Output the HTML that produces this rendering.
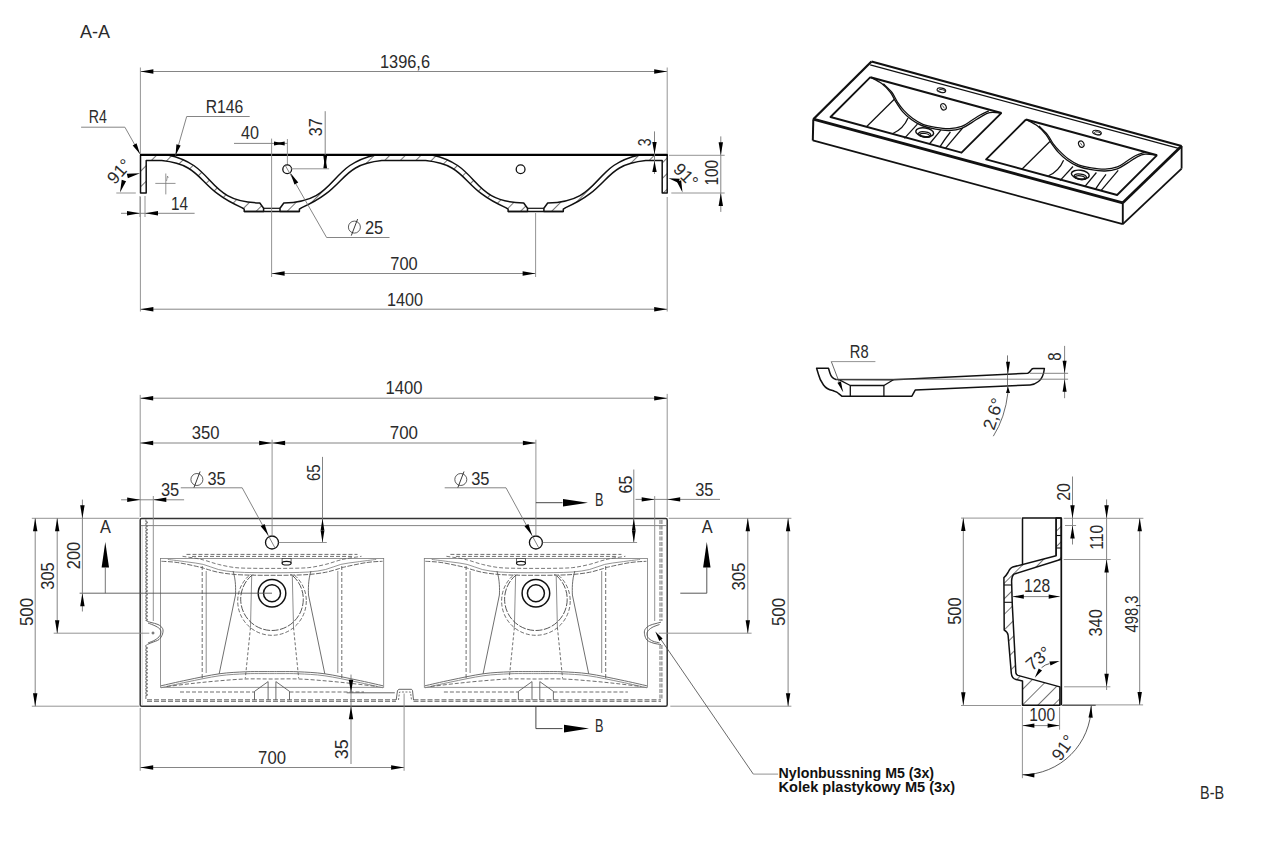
<!DOCTYPE html>
<html><head><meta charset="utf-8"><style>
html,body{margin:0;padding:0;background:#fff;width:1266px;height:842px;overflow:hidden}
svg{display:block;font-family:"Liberation Sans", sans-serif}
</style></head><body>
<svg width="1266" height="842" viewBox="0 0 1266 842">
<rect width="1266" height="842" fill="#fff"/>
<defs><pattern id="hatch" patternUnits="userSpaceOnUse" width="11" height="11" patternTransform="rotate(45)"><line x1="0" y1="0" x2="0" y2="11" stroke="#222" stroke-width="1.25"/></pattern></defs>
<path d="M140.5,154.9 L167.8,154.9 C217.2,165.2 204.8,201.9 259.8,203 L263.6,208.3 L263.6,211.5 L244.2,211.5 L244.2,209.2 L241.8,207.6 C194.7,187.1 206.1,165.4 161.8,160.6 L146.2,160.6 L146.2,193.1 L140.5,193.1 Z" fill="url(#hatch)" stroke="#111" stroke-width="1.5" stroke-linejoin="round"/>
<path d="M280,211.5 L280,208.3 L283.8,203 C338.8,201.9 326.4,165.2 375.8,154.9 L431.7,154.9 C481.1,165.2 468.7,201.9 523.7,203 L527.5,208.3 L527.5,211.5 L508.1,211.5 L508.1,209.2 L505.7,207.6 C458.6,187.1 470,165.4 425.7,160.6 L381.8,160.6 C337.5,165.4 348.9,187.1 301.8,207.6 L299.4,209.2 L299.4,211.5 Z" fill="url(#hatch)" stroke="#111" stroke-width="1.5" stroke-linejoin="round"/>
<path d="M543.9,211.5 L543.9,208.3 L547.7,203 C602.7,201.9 590.3,165.2 639.7,154.9 L667.2,154.9 L667.2,193.1 L662.2,193.1 L662.2,160.6 L645.7,160.6 C601.4,165.4 612.8,187.1 565.7,207.6 L563.3,209.2 L563.3,211.5 Z" fill="url(#hatch)" stroke="#111" stroke-width="1.5" stroke-linejoin="round"/>
<line x1="263.6" y1="208.3" x2="280" y2="208.3" stroke="#111" stroke-width="1.2" stroke-linecap="butt"/>
<line x1="244.2" y1="211.5" x2="299.4" y2="211.5" stroke="#111" stroke-width="1.5" stroke-linecap="butt"/>
<line x1="527.5" y1="208.3" x2="543.9" y2="208.3" stroke="#111" stroke-width="1.2" stroke-linecap="butt"/>
<line x1="508.1" y1="211.5" x2="563.3" y2="211.5" stroke="#111" stroke-width="1.5" stroke-linecap="butt"/>
<line x1="140" y1="154.9" x2="667.7" y2="154.9" stroke="#000" stroke-width="2.4" stroke-linecap="butt"/>
<text x="80" y="37.6" font-size="17.5" text-anchor="start" textLength="30" lengthAdjust="spacingAndGlyphs" fill="#2b2b2b">A-A</text>
<line x1="140.4" y1="71.5" x2="667.2" y2="71.5" stroke="#777" stroke-width="0.9" stroke-linecap="butt"/>
<path d="M140.4,71.5 L153.4,69.3 L153.4,73.7 Z" fill="#000"/>
<path d="M667.2,71.5 L654.2,73.7 L654.2,69.3 Z" fill="#000"/>
<text x="380" y="67.8" font-size="17.5" text-anchor="start" textLength="50" lengthAdjust="spacingAndGlyphs" fill="#2b2b2b">1396,6</text>
<line x1="140.4" y1="67.5" x2="140.4" y2="154" stroke="#888" stroke-width="0.9" stroke-linecap="butt"/>
<line x1="140.4" y1="197" x2="140.4" y2="311.5" stroke="#888" stroke-width="0.9" stroke-linecap="butt"/>
<line x1="667.2" y1="67.5" x2="667.2" y2="154" stroke="#888" stroke-width="0.9" stroke-linecap="butt"/>
<line x1="667.2" y1="197" x2="667.2" y2="311.5" stroke="#888" stroke-width="0.9" stroke-linecap="butt"/>
<line x1="140.4" y1="309.2" x2="667.2" y2="309.2" stroke="#777" stroke-width="0.9" stroke-linecap="butt"/>
<path d="M140.4,309.2 L153.4,307 L153.4,311.4 Z" fill="#000"/>
<path d="M667.2,309.2 L654.2,311.4 L654.2,307 Z" fill="#000"/>
<text x="387.1" y="305.6" font-size="17.5" text-anchor="start" textLength="36" lengthAdjust="spacingAndGlyphs" fill="#2b2b2b">1400</text>
<line x1="271.6" y1="273.5" x2="535.6" y2="273.5" stroke="#777" stroke-width="0.9" stroke-linecap="butt"/>
<path d="M271.6,273.5 L284.6,271.3 L284.6,275.7 Z" fill="#000"/>
<path d="M535.6,273.5 L522.6,275.7 L522.6,271.3 Z" fill="#000"/>
<text x="390.3" y="269.6" font-size="17.5" text-anchor="start" textLength="27.4" lengthAdjust="spacingAndGlyphs" fill="#2b2b2b">700</text>
<line x1="271.6" y1="138.6" x2="271.6" y2="277" stroke="#888" stroke-width="0.9" stroke-linecap="butt"/>
<line x1="535.6" y1="213" x2="535.6" y2="277" stroke="#888" stroke-width="0.9" stroke-linecap="butt"/>
<line x1="234" y1="143.4" x2="287.4" y2="143.4" stroke="#777" stroke-width="0.9" stroke-linecap="butt"/>
<path d="M284.7,143.4 L274,145.4 L274,141.4 Z" fill="#000"/>
<path d="M274,143.4 L284.7,141.4 L284.7,145.4 Z" fill="#000"/>
<text x="241" y="139.1" font-size="17.5" text-anchor="start" textLength="18" lengthAdjust="spacingAndGlyphs" fill="#2b2b2b">40</text>
<line x1="287.4" y1="139" x2="287.4" y2="165" stroke="#888" stroke-width="0.9" stroke-linecap="butt"/>
<circle cx="287.2" cy="169.2" r="4.4" fill="none" stroke="#111" stroke-width="1.3"/>
<circle cx="520.6" cy="169.2" r="4.4" fill="none" stroke="#111" stroke-width="1.3"/>
<line x1="325.2" y1="111.2" x2="325.2" y2="155" stroke="#777" stroke-width="0.9" stroke-linecap="butt"/>
<path d="M325.2,168.6 L323.3,155.7 L327.1,155.7 Z" fill="#000"/>
<path d="M325.2,155.7 L327.1,168.6 L323.3,168.6 Z" fill="#000"/>
<line x1="291" y1="168.8" x2="329.1" y2="168.8" stroke="#888" stroke-width="0.9" stroke-linecap="butt"/>
<text x="322" y="136.2" font-size="17.5" text-anchor="start" textLength="17.9" lengthAdjust="spacingAndGlyphs" transform="rotate(-90 322 136.2)" fill="#2b2b2b">37</text>
<line x1="654.5" y1="131.4" x2="654.5" y2="174" stroke="#777" stroke-width="0.9" stroke-linecap="butt"/>
<path d="M654.5,154 L652.3,142 L656.7,142 Z" fill="#000"/>
<path d="M654.5,161 L656.7,172 L652.3,172 Z" fill="#000"/>
<text x="650.6" y="146.3" font-size="17.5" text-anchor="start" textLength="7.8" lengthAdjust="spacingAndGlyphs" transform="rotate(-90 650.6 146.3)" fill="#2b2b2b">3</text>
<line x1="720.8" y1="136.4" x2="720.8" y2="211.9" stroke="#777" stroke-width="0.9" stroke-linecap="butt"/>
<path d="M720.8,155.3 L718.6,142.3 L723,142.3 Z" fill="#000"/>
<path d="M720.8,193 L723,206 L718.6,206 Z" fill="#000"/>
<line x1="669" y1="155.3" x2="724.7" y2="155.3" stroke="#888" stroke-width="0.9" stroke-linecap="butt"/>
<line x1="671.3" y1="193" x2="724.7" y2="193" stroke="#888" stroke-width="0.9" stroke-linecap="butt"/>
<text x="717.6" y="185.5" font-size="17.5" text-anchor="start" textLength="25.6" lengthAdjust="spacingAndGlyphs" transform="rotate(-90 717.6 185.5)" fill="#2b2b2b">100</text>
<text x="672.3" y="170.3" font-size="17.5" text-anchor="start" transform="rotate(45 672.3 170.3)" fill="#2b2b2b">91°</text>
<path d="M668.5,178.3 L679.71,178.83 L678.64,183.1 Z" fill="#000"/>
<path d="M682.5,192.5 L676.94,181.64 L681.16,180.37 Z" fill="#000"/>
<path d="M679,181 Q678.5,183 679.5,185" fill="none" stroke="#000" stroke-width="0.9" stroke-linejoin="round"/>
<text x="114.7" y="185.3" font-size="17.5" text-anchor="start" transform="rotate(-48 114.7 185.3)" fill="#2b2b2b">91°</text>
<path d="M140,173.2 L127.85,178.36 L126.82,173.87 Z" fill="#000"/>
<path d="M120,192.4 L121.73,179.81 L126.1,181.25 Z" fill="#000"/>
<line x1="116.3" y1="193" x2="135.8" y2="193" stroke="#888" stroke-width="0.9" stroke-linecap="butt"/>
<text x="88.8" y="123.2" font-size="17.5" text-anchor="start" textLength="18.1" lengthAdjust="spacingAndGlyphs" fill="#2b2b2b">R4</text>
<line x1="81.1" y1="127.2" x2="124.9" y2="127.2" stroke="#777" stroke-width="0.9" stroke-linecap="butt"/>
<line x1="124.9" y1="127.2" x2="140" y2="154" stroke="#777" stroke-width="0.9" stroke-linecap="butt"/>
<path d="M140,154 L132.68,145.5 L136.52,143.34 Z" fill="#000"/>
<text x="205.8" y="112.8" font-size="17.5" text-anchor="start" textLength="37.5" lengthAdjust="spacingAndGlyphs" fill="#2b2b2b">R146</text>
<line x1="186.7" y1="116.5" x2="249.7" y2="116.5" stroke="#777" stroke-width="0.9" stroke-linecap="butt"/>
<line x1="186.7" y1="116.5" x2="175.5" y2="155.5" stroke="#777" stroke-width="0.9" stroke-linecap="butt"/>
<path d="M175.5,155.5 L176.42,144.32 L180.65,145.53 Z" fill="#000"/>
<circle cx="354.4" cy="227.1" r="6" fill="none" stroke="#333" stroke-width="0.8"/>
<line x1="357.6" y1="219.1" x2="351.3" y2="235.6" stroke="#222" stroke-width="0.9" stroke-linecap="butt"/>
<text x="364.9" y="234" font-size="17.5" text-anchor="start" textLength="18.3" lengthAdjust="spacingAndGlyphs" fill="#2b2b2b">25</text>
<line x1="326.6" y1="237.5" x2="389.5" y2="237.5" stroke="#777" stroke-width="0.9" stroke-linecap="butt"/>
<line x1="326.6" y1="237.5" x2="285.3" y2="165.5" stroke="#777" stroke-width="0.9" stroke-linecap="butt"/>
<path d="M290.5,173 L298.28,182.4 L294.44,184.55 Z" fill="#000"/>
<line x1="121" y1="213.3" x2="194.6" y2="213.3" stroke="#777" stroke-width="0.9" stroke-linecap="butt"/>
<path d="M140,213.3 L127,215.5 L127,211.1 Z" fill="#000"/>
<path d="M145,213.3 L158,211.1 L158,215.5 Z" fill="#000"/>
<line x1="140" y1="196" x2="140" y2="217" stroke="#888" stroke-width="0.9" stroke-linecap="butt"/>
<line x1="145" y1="196" x2="145" y2="217" stroke="#888" stroke-width="0.9" stroke-linecap="butt"/>
<text x="171" y="210" font-size="17.5" text-anchor="start" textLength="17" lengthAdjust="spacingAndGlyphs" fill="#2b2b2b">14</text>
<line x1="155.3" y1="183.4" x2="175.5" y2="183.4" stroke="#777" stroke-width="0.8" stroke-linecap="butt"/>
<line x1="165.8" y1="173.5" x2="165.8" y2="194.4" stroke="#777" stroke-width="0.8" stroke-linecap="butt"/>
<path d="M166.5,181 L167.5,176 L168.2,178" fill="none" stroke="#777" stroke-width="0.7" stroke-linejoin="round"/>
<line x1="871.5" y1="61.5" x2="1181.6" y2="146" stroke="#111" stroke-width="2.3" stroke-linecap="butt"/>
<line x1="870.2" y1="64.8" x2="1179.5" y2="148.6" stroke="#111" stroke-width="1.3" stroke-linecap="butt"/>
<line x1="871.5" y1="61.5" x2="813.3" y2="119.2" stroke="#111" stroke-width="2.3" stroke-linecap="butt"/>
<line x1="813.3" y1="119.2" x2="812.8" y2="140.4" stroke="#111" stroke-width="2.0" stroke-linecap="butt"/>
<line x1="812.8" y1="140.4" x2="1122.8" y2="224.2" stroke="#111" stroke-width="1.8" stroke-linecap="butt"/>
<line x1="1122.8" y1="202.8" x2="1122.8" y2="224.2" stroke="#111" stroke-width="1.9" stroke-linecap="butt"/>
<line x1="813.3" y1="119.2" x2="1122.8" y2="202.8" stroke="#111" stroke-width="2.8" stroke-linecap="butt"/>
<line x1="1122.8" y1="202.8" x2="1181.6" y2="146" stroke="#111" stroke-width="2.7" stroke-linecap="butt"/>
<line x1="1181.6" y1="146" x2="1181.6" y2="168.6" stroke="#111" stroke-width="1.8" stroke-linecap="butt"/>
<line x1="1181.6" y1="168.6" x2="1122.8" y2="224.2" stroke="#111" stroke-width="1.8" stroke-linecap="butt"/>
<line x1="1179.5" y1="148.6" x2="1181.6" y2="146" stroke="#111" stroke-width="1.2" stroke-linecap="butt"/>
<path d="M1026,119.5 L986.1,159.3 L1117.1,195 L1157.1,155.2" fill="none" stroke="#111" stroke-width="1.85" stroke-linejoin="round"/>
<line x1="1026" y1="119.5" x2="1157.1" y2="155.2" stroke="#111" stroke-width="2.1" stroke-linecap="butt"/>
<path d="M1026,119.5 C1027.88,120.55 1033.97,123.28 1037.3,125.8 C1040.63,128.32 1043.63,131.67 1046,134.6 C1048.37,137.53 1049.47,140.48 1051.5,143.4 C1053.53,146.32 1055.63,149.33 1058.2,152.1 C1060.77,154.87 1063.72,157.68 1066.9,160 C1070.08,162.32 1073.25,164.38 1077.3,166 C1081.35,167.62 1086.57,168.87 1091.2,169.7 C1095.83,170.53 1100.75,171.15 1105.1,171 C1109.45,170.85 1113.53,170.17 1117.3,168.8 C1121.07,167.43 1124.52,164.72 1127.7,162.8 C1130.88,160.88 1133.5,158.73 1136.4,157.3 C1139.3,155.87 1141.67,154.55 1145.1,154.2 C1148.53,153.85 1155.02,155.03 1157,155.2" fill="none" stroke="#111" stroke-width="1.35" stroke-linejoin="round"/>
<path d="M1038.9,126 C1040.35,127.47 1045.23,131.87 1047.6,134.8 C1049.97,137.73 1051.13,140.92 1053.1,143.6 C1055.07,146.28 1056.9,148.37 1059.4,150.9 C1061.9,153.43 1064.92,156.48 1068.1,158.8 C1071.28,161.12 1074.65,163.3 1078.5,164.8 C1082.35,166.3 1086.77,167.08 1091.2,167.8 C1095.63,168.52 1100.75,169.25 1105.1,169.1 C1109.45,168.95 1113.63,168.25 1117.3,166.9 C1120.97,165.55 1124.02,162.9 1127.1,161 C1130.18,159.1 1132.9,156.93 1135.8,155.5 C1138.7,154.07 1143.05,152.92 1144.5,152.4" fill="none" stroke="#111" stroke-width="1.25" stroke-linejoin="round"/>
<line x1="1049.9" y1="141.5" x2="1022.1" y2="169" stroke="#111" stroke-width="1.25" stroke-linecap="butt"/>
<path d="M1063.6,160.2 Q1059,171 1048.5,175.8" fill="none" stroke="#111" stroke-width="1.25" stroke-linejoin="round"/>
<line x1="1073" y1="166.5" x2="1060" y2="180.6" stroke="#111" stroke-width="1.25" stroke-linecap="butt"/>
<line x1="1096.4" y1="172.5" x2="1085" y2="186.3" stroke="#111" stroke-width="1.25" stroke-linecap="butt"/>
<path d="M1106,174.3 Q1100,182 1095.5,189.2" fill="none" stroke="#111" stroke-width="1.25" stroke-linejoin="round"/>
<line x1="1118.2" y1="170.3" x2="1101" y2="190.6" stroke="#111" stroke-width="1.25" stroke-linecap="butt"/>
<ellipse cx="1080.3" cy="174.6" rx="9" ry="4.3" transform="rotate(8 1080.3 174.6)" fill="none" stroke="#111" stroke-width="1.45"/>
<ellipse cx="1080.3" cy="176.8" rx="6.2" ry="2.7" transform="rotate(8 1080.3 176.8)" fill="none" stroke="#111" stroke-width="1.2"/>
<ellipse cx="1080.3" cy="177.6" rx="4.8" ry="1.8" transform="rotate(8 1080.3 177.6)" fill="none" stroke="#111" stroke-width="1.2"/>
<ellipse cx="1081.3" cy="144.1" rx="2.6" ry="3.3" transform="rotate(-25 1081.3 144.1)" fill="none" stroke="#111" stroke-width="1.2"/>
<line x1="1080.3" y1="142.8" x2="1082.2" y2="145.6" stroke="#333" stroke-width="0.8" stroke-linecap="butt"/>
<ellipse cx="1097" cy="132.6" rx="4.4" ry="2.2" transform="rotate(12 1097 132.6)" fill="none" stroke="#111" stroke-width="1.1"/>
<ellipse cx="1097.6" cy="133.3" rx="3.4" ry="1.4" transform="rotate(12 1097.6 133.3)" fill="none" stroke="#111" stroke-width="0.8"/>
<path d="M870.4,77.2 L830.5,117 L961.5,152.7 L1001.5,112.9" fill="none" stroke="#111" stroke-width="1.85" stroke-linejoin="round"/>
<line x1="870.4" y1="77.2" x2="1001.5" y2="112.9" stroke="#111" stroke-width="2.1" stroke-linecap="butt"/>
<path d="M870.4,77.2 C872.28,78.25 878.37,80.98 881.7,83.5 C885.03,86.02 888.03,89.23 890.4,92.3 C892.77,95.37 893.87,98.71 895.9,101.92 C897.93,105.14 900.03,108.67 902.6,111.6 C905.17,114.53 908.12,117.18 911.3,119.5 C914.48,121.82 917.65,123.88 921.7,125.5 C925.75,127.12 930.97,128.37 935.6,129.2 C940.23,130.03 945.15,130.65 949.5,130.5 C953.85,130.35 957.93,129.67 961.7,128.3 C965.47,126.93 968.92,124.22 972.1,122.3 C975.28,120.38 977.9,118.41 980.8,116.8 C983.7,115.19 986.07,113.29 989.5,112.64 C992.93,111.98 999.42,112.86 1001.4,112.9" fill="none" stroke="#111" stroke-width="1.35" stroke-linejoin="round"/>
<path d="M883.3,83.7 C884.75,85.17 889.63,89.43 892,92.5 C894.37,95.57 895.53,99.14 897.5,102.12 C899.47,105.11 901.3,107.7 903.8,110.4 C906.3,113.1 909.32,115.98 912.5,118.3 C915.68,120.62 919.05,122.8 922.9,124.3 C926.75,125.8 931.17,126.58 935.6,127.3 C940.03,128.02 945.15,128.75 949.5,128.6 C953.85,128.45 958.03,127.75 961.7,126.4 C965.37,125.05 968.42,122.4 971.5,120.5 C974.58,118.6 977.3,116.61 980.2,115 C983.1,113.39 987.45,111.53 988.9,110.83" fill="none" stroke="#111" stroke-width="1.25" stroke-linejoin="round"/>
<line x1="894.3" y1="99.2" x2="866.5" y2="126.7" stroke="#111" stroke-width="1.25" stroke-linecap="butt"/>
<path d="M908,117.9 Q903.4,128.7 892.9,133.5" fill="none" stroke="#111" stroke-width="1.25" stroke-linejoin="round"/>
<line x1="917.4" y1="124.2" x2="904.4" y2="138.3" stroke="#111" stroke-width="1.25" stroke-linecap="butt"/>
<line x1="940.8" y1="130.2" x2="929.4" y2="144" stroke="#111" stroke-width="1.25" stroke-linecap="butt"/>
<path d="M950.4,132 Q944.4,139.7 939.9,146.9" fill="none" stroke="#111" stroke-width="1.25" stroke-linejoin="round"/>
<line x1="962.6" y1="128" x2="945.4" y2="148.3" stroke="#111" stroke-width="1.25" stroke-linecap="butt"/>
<ellipse cx="924.7" cy="132.3" rx="9" ry="4.3" transform="rotate(8 924.7 132.3)" fill="none" stroke="#111" stroke-width="1.45"/>
<ellipse cx="924.7" cy="134.5" rx="6.2" ry="2.7" transform="rotate(8 924.7 134.5)" fill="none" stroke="#111" stroke-width="1.2"/>
<ellipse cx="924.7" cy="135.3" rx="4.8" ry="1.8" transform="rotate(8 924.7 135.3)" fill="none" stroke="#111" stroke-width="1.2"/>
<ellipse cx="943.5" cy="106.8" rx="2.6" ry="3.3" transform="rotate(-25 943.5 106.8)" fill="none" stroke="#111" stroke-width="1.2"/>
<line x1="942.5" y1="105.5" x2="944.4" y2="108.3" stroke="#333" stroke-width="0.8" stroke-linecap="butt"/>
<ellipse cx="941.4" cy="90.3" rx="4.4" ry="2.2" transform="rotate(12 941.4 90.3)" fill="none" stroke="#111" stroke-width="1.1"/>
<ellipse cx="942" cy="91" rx="3.4" ry="1.4" transform="rotate(12 942 91)" fill="none" stroke="#111" stroke-width="0.8"/>
<path d="M816.6,368.3 L828.5,368.3 L829.9,373 C830.8,376 832.5,378.6 836,379.5 L893.4,379.8 L1027.7,373.3 C1029.5,372.8 1030.5,370.5 1031.5,369.5 C1032,368.8 1032.8,368.5 1033.6,368.5 L1044.4,368.5 C1043.8,374 1042.5,378.5 1038.5,381.5 C1036,383.5 1033,384.8 1030.1,384.9 L915.2,390.1 L911.9,396.2 L841.8,396.2 L838.4,393.4 C837.5,392.3 836.5,391.6 834.5,391.2 L832.7,390.5 C829.5,389.8 826,388.5 823.5,385 C821,381.5 819.3,378 818.5,374.5 Z" fill="none" stroke="#111" stroke-width="1.5" stroke-linejoin="round"/>
<path d="M839.4,379.8 L850.3,385.5 L883.9,385.5 L893.4,379.8" fill="none" stroke="#111" stroke-width="1.3" stroke-linejoin="round"/>
<line x1="850.3" y1="385.5" x2="850.3" y2="396.2" stroke="#111" stroke-width="1.3" stroke-linecap="butt"/>
<line x1="883.9" y1="385.5" x2="883.9" y2="396.2" stroke="#111" stroke-width="1.3" stroke-linecap="butt"/>
<line x1="836" y1="379.2" x2="1068.1" y2="379.2" stroke="#666" stroke-width="0.8" stroke-linecap="butt"/>
<line x1="1030" y1="373.3" x2="1068.1" y2="373.3" stroke="#666" stroke-width="0.8" stroke-linecap="butt"/>
<text x="849.8" y="357.6" font-size="17.5" text-anchor="start" textLength="18.8" lengthAdjust="spacingAndGlyphs" fill="#2b2b2b">R8</text>
<line x1="831.3" y1="361.6" x2="875.4" y2="361.6" stroke="#888" stroke-width="0.9" stroke-linecap="butt"/>
<line x1="831.3" y1="361.6" x2="842.8" y2="391.5" stroke="#444" stroke-width="0.8" stroke-linecap="butt"/>
<path d="M842.8,391.5 L837.44,382.85 L840.98,381.48 Z" fill="#000"/>
<line x1="1064.6" y1="345.9" x2="1064.6" y2="398.2" stroke="#777" stroke-width="0.9" stroke-linecap="butt"/>
<path d="M1064.6,373.3 L1062.6,360.8 L1066.6,360.8 Z" fill="#000"/>
<path d="M1064.6,379.2 L1066.6,391.7 L1062.6,391.7 Z" fill="#000"/>
<text x="1061" y="360.8" font-size="17.5" text-anchor="start" textLength="8.3" lengthAdjust="spacingAndGlyphs" transform="rotate(-90 1061 360.8)" fill="#2b2b2b">8</text>
<line x1="1007.5" y1="355.4" x2="1007.5" y2="392.3" stroke="#555" stroke-width="0.8" stroke-linecap="butt"/>
<path d="M1008,374.2 L1006,361.7 L1010,361.7 Z" fill="#000"/>
<path d="M1008,386.5 L1010,393 L1006,393 Z" fill="#000"/>
<path d="M1008,392.3 Q1005,418 993.3,436.2" fill="none" stroke="#444" stroke-width="0.8" stroke-linejoin="round"/>
<text x="994" y="431" font-size="17.5" text-anchor="start" textLength="32" lengthAdjust="spacingAndGlyphs" transform="rotate(-72 994 431)" fill="#2b2b2b">2,6°</text>
<rect x="160.4" y="558.4" width="223.3" height="128.9" fill="none" stroke="#7a7a7a" stroke-width="0.8"/>
<line x1="186.5" y1="554.4" x2="357.5" y2="554.4" stroke="#555" stroke-width="0.85" stroke-dasharray="4,2" stroke-linecap="butt"/>
<line x1="192" y1="556.4" x2="352" y2="556.4" stroke="#555" stroke-width="0.85" stroke-dasharray="4,2" stroke-linecap="butt"/>
<path d="M161.5,561.3 C164.13,561.5 170.98,561.55 177.3,562.5 C183.62,563.45 194.65,565.93 199.4,567 C204.15,568.07 202.63,568.02 205.8,568.9 C208.97,569.78 213.5,571.37 218.4,572.3 C223.3,573.23 229.27,574.02 235.2,574.5 C241.13,574.98 247.87,575.07 254,575.2 C260.13,575.33 266,575.3 272,575.3 C278,575.3 283.87,575.33 290,575.2 C296.13,575.07 302.87,574.98 308.8,574.5 C314.73,574.02 320.7,573.23 325.6,572.3 C330.5,571.37 335.03,569.78 338.2,568.9 C341.37,568.02 339.85,568.07 344.6,567 C349.35,565.93 360.38,563.45 366.7,562.5 C373.02,561.55 379.87,561.5 382.5,561.3" fill="none" stroke="#555" stroke-width="0.9" stroke-dasharray="5,1.5" stroke-linejoin="round"/>
<path d="M167.8,559.4 C170.97,559.82 180.9,561.07 186.8,561.9 C192.7,562.73 197.93,563.13 203.2,564.4 C208.47,565.67 213.07,568.23 218.4,569.5 C223.73,570.77 229.27,571.48 235.2,572 C241.13,572.52 247.87,572.48 254,572.6 C260.13,572.72 266,572.7 272,572.7 C278,572.7 283.87,572.72 290,572.6 C296.13,572.48 302.87,572.52 308.8,572 C314.73,571.48 320.27,570.77 325.6,569.5 C330.93,568.23 335.53,565.67 340.8,564.4 C346.07,563.13 351.3,562.73 357.2,561.9 C363.1,561.07 373.03,559.82 376.2,559.4" fill="none" stroke="#7a7a7a" stroke-width="0.8" stroke-linejoin="round"/>
<path d="M182.5,556.3 C184.92,556.67 193.12,557.78 197,558.5 C200.88,559.22 202.23,559.62 205.8,560.6 C209.37,561.58 213.5,563.23 218.4,564.4 C223.3,565.57 229.27,566.95 235.2,567.6 C241.13,568.25 247.87,568.17 254,568.3 C260.13,568.43 266,568.4 272,568.4 C278,568.4 283.87,568.43 290,568.3 C296.13,568.17 302.87,568.25 308.8,567.6 C314.73,566.95 320.7,565.57 325.6,564.4 C330.5,563.23 334.63,561.58 338.2,560.6 C341.77,559.62 343.12,559.22 347,558.5 C350.88,557.78 359.08,556.67 361.5,556.3" fill="none" stroke="#555" stroke-width="0.8" stroke-dasharray="4,2" stroke-linejoin="round"/>
<path d="M161,685.8 C165.33,684.83 177.3,682 187,680 C196.7,678 209.48,675.17 219.2,673.8 C228.92,672.43 238.17,672.17 245.3,671.8 C252.43,671.43 257.55,671.63 262,671.6 C266.45,671.57 268.67,671.6 272,671.6 C275.33,671.6 277.55,671.57 282,671.6 C286.45,671.63 291.57,671.43 298.7,671.8 C305.83,672.17 315.08,672.43 324.8,673.8 C334.52,675.17 347.3,678 357,680 C366.7,682 378.67,684.83 383,685.8" fill="none" stroke="#555" stroke-width="0.85" stroke-linejoin="round"/>
<path d="M161,687.8 C165.33,686.83 177.3,684 187,682 C196.7,680 209.48,677.17 219.2,675.8 C228.92,674.43 238.17,674.17 245.3,673.8 C252.43,673.43 257.55,673.63 262,673.6 C266.45,673.57 268.67,673.6 272,673.6 C275.33,673.6 277.55,673.57 282,673.6 C286.45,673.63 291.57,673.43 298.7,673.8 C305.83,674.17 315.08,674.43 324.8,675.8 C334.52,677.17 347.3,680 357,682 C366.7,684 378.67,686.83 383,687.8" fill="none" stroke="#7a7a7a" stroke-width="0.85" stroke-linejoin="round"/>
<path d="M167,686.5 C171.17,686 183.67,684.42 192,683.5 C200.33,682.58 208.17,681.75 217,681 C225.83,680.25 235.83,679.33 245,679 C254.17,678.67 263,679 272,679 C281,679 289.83,678.67 299,679 C308.17,679.33 318.17,680.25 327,681 C335.83,681.75 343.67,682.58 352,683.5 C360.33,684.42 372.83,686 377,686.5" fill="none" stroke="#555" stroke-width="0.85" stroke-dasharray="4,2" stroke-linejoin="round"/>
<line x1="180" y1="692" x2="254.5" y2="692" stroke="#555" stroke-width="0.85" stroke-dasharray="4,2" stroke-linecap="butt"/>
<line x1="289.5" y1="692" x2="364" y2="692" stroke="#555" stroke-width="0.85" stroke-dasharray="4,2" stroke-linecap="butt"/>
<line x1="202.2" y1="566" x2="202.2" y2="678.4" stroke="#555" stroke-width="0.85" stroke-dasharray="4,2" stroke-linecap="butt"/>
<line x1="206.2" y1="571" x2="206.2" y2="673" stroke="#7a7a7a" stroke-width="0.85" stroke-linecap="butt"/>
<path d="M233,571 C236,580 235.7,590 235.5,595 L219.2,673.8" fill="none" stroke="#555" stroke-width="0.85" stroke-linejoin="round"/>
<line x1="251.7" y1="575.7" x2="250.5" y2="627" stroke="#7a7a7a" stroke-width="0.85" stroke-linecap="butt"/>
<line x1="250.5" y1="627.4" x2="245.3" y2="678.4" stroke="#555" stroke-width="0.85" stroke-dasharray="3,2" stroke-linecap="butt"/>
<line x1="341.8" y1="566" x2="341.8" y2="678.4" stroke="#555" stroke-width="0.85" stroke-dasharray="4,2" stroke-linecap="butt"/>
<line x1="337.8" y1="571" x2="337.8" y2="673" stroke="#7a7a7a" stroke-width="0.85" stroke-linecap="butt"/>
<path d="M311,571 C308,580 308.3,590 308.5,595 L324.8,673.8" fill="none" stroke="#555" stroke-width="0.85" stroke-linejoin="round"/>
<line x1="292.3" y1="575.7" x2="293.5" y2="627" stroke="#7a7a7a" stroke-width="0.85" stroke-linecap="butt"/>
<line x1="293.5" y1="627.4" x2="298.7" y2="678.4" stroke="#555" stroke-width="0.85" stroke-dasharray="3,2" stroke-linecap="butt"/>
<clipPath id="cc272"><rect x="232" y="574" width="80" height="70"/></clipPath>
<g clip-path="url(#cc272)">
<circle cx="272" cy="601" r="34.3" fill="none" stroke="#555" stroke-width="0.85" stroke-dasharray="4,2"/>
<circle cx="272" cy="599.2" r="31.3" fill="none" stroke="#444" stroke-width="0.9" stroke-dasharray="7,1.5"/>
</g>
<circle cx="272" cy="593.3" r="13.8" fill="none" stroke="#111" stroke-width="1.5"/>
<circle cx="272" cy="593.3" r="8.5" fill="none" stroke="#111" stroke-width="1.5"/>
<path d="M254.5,700 L254.5,691.4 L268.1,681.6 L268.1,700" fill="none" stroke="#555" stroke-width="0.85" stroke-linejoin="round"/>
<path d="M289.5,700 L289.5,691.4 L275.9,681.6 L275.9,700" fill="none" stroke="#555" stroke-width="0.85" stroke-linejoin="round"/>
<rect x="282.1" y="558.5" width="9" height="4.7" fill="#fff" stroke="#444" stroke-width="0.8"/>
<ellipse cx="286.6" cy="563.2" rx="4.5" ry="1.8" fill="#fff" stroke="#111" stroke-width="1.1"/>
<circle cx="272" cy="542.5" r="6.5" fill="none" stroke="#111" stroke-width="1.3"/>
<rect x="424.3" y="558.4" width="223.3" height="128.9" fill="none" stroke="#7a7a7a" stroke-width="0.8"/>
<line x1="450.4" y1="554.4" x2="621.4" y2="554.4" stroke="#555" stroke-width="0.85" stroke-dasharray="4,2" stroke-linecap="butt"/>
<line x1="455.9" y1="556.4" x2="615.9" y2="556.4" stroke="#555" stroke-width="0.85" stroke-dasharray="4,2" stroke-linecap="butt"/>
<path d="M425.4,561.3 C428.03,561.5 434.88,561.55 441.2,562.5 C447.52,563.45 458.55,565.93 463.3,567 C468.05,568.07 466.53,568.02 469.7,568.9 C472.87,569.78 477.4,571.37 482.3,572.3 C487.2,573.23 493.17,574.02 499.1,574.5 C505.03,574.98 511.77,575.07 517.9,575.2 C524.03,575.33 529.9,575.3 535.9,575.3 C541.9,575.3 547.77,575.33 553.9,575.2 C560.03,575.07 566.77,574.98 572.7,574.5 C578.63,574.02 584.6,573.23 589.5,572.3 C594.4,571.37 598.93,569.78 602.1,568.9 C605.27,568.02 603.75,568.07 608.5,567 C613.25,565.93 624.28,563.45 630.6,562.5 C636.92,561.55 643.77,561.5 646.4,561.3" fill="none" stroke="#555" stroke-width="0.9" stroke-dasharray="5,1.5" stroke-linejoin="round"/>
<path d="M431.7,559.4 C434.87,559.82 444.8,561.07 450.7,561.9 C456.6,562.73 461.83,563.13 467.1,564.4 C472.37,565.67 476.97,568.23 482.3,569.5 C487.63,570.77 493.17,571.48 499.1,572 C505.03,572.52 511.77,572.48 517.9,572.6 C524.03,572.72 529.9,572.7 535.9,572.7 C541.9,572.7 547.77,572.72 553.9,572.6 C560.03,572.48 566.77,572.52 572.7,572 C578.63,571.48 584.17,570.77 589.5,569.5 C594.83,568.23 599.43,565.67 604.7,564.4 C609.97,563.13 615.2,562.73 621.1,561.9 C627,561.07 636.93,559.82 640.1,559.4" fill="none" stroke="#7a7a7a" stroke-width="0.8" stroke-linejoin="round"/>
<path d="M446.4,556.3 C448.82,556.67 457.02,557.78 460.9,558.5 C464.78,559.22 466.13,559.62 469.7,560.6 C473.27,561.58 477.4,563.23 482.3,564.4 C487.2,565.57 493.17,566.95 499.1,567.6 C505.03,568.25 511.77,568.17 517.9,568.3 C524.03,568.43 529.9,568.4 535.9,568.4 C541.9,568.4 547.77,568.43 553.9,568.3 C560.03,568.17 566.77,568.25 572.7,567.6 C578.63,566.95 584.6,565.57 589.5,564.4 C594.4,563.23 598.53,561.58 602.1,560.6 C605.67,559.62 607.02,559.22 610.9,558.5 C614.78,557.78 622.98,556.67 625.4,556.3" fill="none" stroke="#555" stroke-width="0.8" stroke-dasharray="4,2" stroke-linejoin="round"/>
<path d="M424.9,685.8 C429.23,684.83 441.2,682 450.9,680 C460.6,678 473.38,675.17 483.1,673.8 C492.82,672.43 502.07,672.17 509.2,671.8 C516.33,671.43 521.45,671.63 525.9,671.6 C530.35,671.57 532.57,671.6 535.9,671.6 C539.23,671.6 541.45,671.57 545.9,671.6 C550.35,671.63 555.47,671.43 562.6,671.8 C569.73,672.17 578.98,672.43 588.7,673.8 C598.42,675.17 611.2,678 620.9,680 C630.6,682 642.57,684.83 646.9,685.8" fill="none" stroke="#555" stroke-width="0.85" stroke-linejoin="round"/>
<path d="M424.9,687.8 C429.23,686.83 441.2,684 450.9,682 C460.6,680 473.38,677.17 483.1,675.8 C492.82,674.43 502.07,674.17 509.2,673.8 C516.33,673.43 521.45,673.63 525.9,673.6 C530.35,673.57 532.57,673.6 535.9,673.6 C539.23,673.6 541.45,673.57 545.9,673.6 C550.35,673.63 555.47,673.43 562.6,673.8 C569.73,674.17 578.98,674.43 588.7,675.8 C598.42,677.17 611.2,680 620.9,682 C630.6,684 642.57,686.83 646.9,687.8" fill="none" stroke="#7a7a7a" stroke-width="0.85" stroke-linejoin="round"/>
<path d="M430.9,686.5 C435.07,686 447.57,684.42 455.9,683.5 C464.23,682.58 472.07,681.75 480.9,681 C489.73,680.25 499.73,679.33 508.9,679 C518.07,678.67 526.9,679 535.9,679 C544.9,679 553.73,678.67 562.9,679 C572.07,679.33 582.07,680.25 590.9,681 C599.73,681.75 607.57,682.58 615.9,683.5 C624.23,684.42 636.73,686 640.9,686.5" fill="none" stroke="#555" stroke-width="0.85" stroke-dasharray="4,2" stroke-linejoin="round"/>
<line x1="443.9" y1="692" x2="518.4" y2="692" stroke="#555" stroke-width="0.85" stroke-dasharray="4,2" stroke-linecap="butt"/>
<line x1="553.4" y1="692" x2="627.9" y2="692" stroke="#555" stroke-width="0.85" stroke-dasharray="4,2" stroke-linecap="butt"/>
<line x1="466.1" y1="566" x2="466.1" y2="678.4" stroke="#555" stroke-width="0.85" stroke-dasharray="4,2" stroke-linecap="butt"/>
<line x1="470.1" y1="571" x2="470.1" y2="673" stroke="#7a7a7a" stroke-width="0.85" stroke-linecap="butt"/>
<path d="M496.9,571 C499.9,580 499.6,590 499.4,595 L483.1,673.8" fill="none" stroke="#555" stroke-width="0.85" stroke-linejoin="round"/>
<line x1="515.6" y1="575.7" x2="514.4" y2="627" stroke="#7a7a7a" stroke-width="0.85" stroke-linecap="butt"/>
<line x1="514.4" y1="627.4" x2="509.2" y2="678.4" stroke="#555" stroke-width="0.85" stroke-dasharray="3,2" stroke-linecap="butt"/>
<line x1="605.7" y1="566" x2="605.7" y2="678.4" stroke="#555" stroke-width="0.85" stroke-dasharray="4,2" stroke-linecap="butt"/>
<line x1="601.7" y1="571" x2="601.7" y2="673" stroke="#7a7a7a" stroke-width="0.85" stroke-linecap="butt"/>
<path d="M574.9,571 C571.9,580 572.2,590 572.4,595 L588.7,673.8" fill="none" stroke="#555" stroke-width="0.85" stroke-linejoin="round"/>
<line x1="556.2" y1="575.7" x2="557.4" y2="627" stroke="#7a7a7a" stroke-width="0.85" stroke-linecap="butt"/>
<line x1="557.4" y1="627.4" x2="562.6" y2="678.4" stroke="#555" stroke-width="0.85" stroke-dasharray="3,2" stroke-linecap="butt"/>
<clipPath id="cc535"><rect x="495.9" y="574" width="80" height="70"/></clipPath>
<g clip-path="url(#cc535)">
<circle cx="535.9" cy="601" r="34.3" fill="none" stroke="#555" stroke-width="0.85" stroke-dasharray="4,2"/>
<circle cx="535.9" cy="599.2" r="31.3" fill="none" stroke="#444" stroke-width="0.9" stroke-dasharray="7,1.5"/>
</g>
<circle cx="535.9" cy="593.3" r="13.8" fill="none" stroke="#111" stroke-width="1.5"/>
<circle cx="535.9" cy="593.3" r="8.5" fill="none" stroke="#111" stroke-width="1.5"/>
<path d="M518.4,700 L518.4,691.4 L532,681.6 L532,700" fill="none" stroke="#555" stroke-width="0.85" stroke-linejoin="round"/>
<path d="M553.4,700 L553.4,691.4 L539.8,681.6 L539.8,700" fill="none" stroke="#555" stroke-width="0.85" stroke-linejoin="round"/>
<rect x="516.5" y="558.5" width="9" height="4.7" fill="#fff" stroke="#444" stroke-width="0.8"/>
<ellipse cx="521" cy="563.2" rx="4.5" ry="1.8" fill="#fff" stroke="#111" stroke-width="1.1"/>
<circle cx="535.9" cy="542.5" r="6.5" fill="none" stroke="#111" stroke-width="1.3"/>
<path d="M145.9,519.5 V521.84 H147.3 V523.1 H145.9 V525.44 H147.3 V526.7 H145.9 V529.04 H147.3 V530.3 H145.9 V532.64 H147.3 V533.9 H145.9 V536.24 H147.3 V537.5 H145.9 V539.84 H147.3 V541.1 H145.9 V543.44 H147.3 V544.7 H145.9 V547.04 H147.3 V548.3 H145.9 V550.64 H147.3 V551.9 H145.9 V554.24 H147.3 V555.5 H145.9 V557.84 H147.3 V559.1 H145.9 V561.44 H147.3 V562.7 H145.9 V565.04 H147.3 V566.3 H145.9 V568.64 H147.3 V569.9 H145.9 V572.24 H147.3 V573.5 H145.9 V575.84 H147.3 V577.1 H145.9 V579.44 H147.3 V580.7 H145.9 V583.04 H147.3 V584.3 H145.9 V586.64 H147.3 V587.9 H145.9 V590.24 H147.3 V591.5 H145.9 V593.84 H147.3 V595.1 H145.9 V597.44 H147.3 V598.7 H145.9 V601.04 H147.3 V602.3 H145.9 V604.64 H147.3 V605.9 H145.9 V608.24 H147.3 V609.5 H145.9 V611.84 H147.3 V613.1 H145.9 V615.44 H147.3 V616.7 H145.9 V619.04 H147.3 V620.3 H145.9 V621" fill="none" stroke="#555" stroke-width="0.85" stroke-linejoin="miter"/>
<path d="M145.9,645 V647.34 H147.3 V648.6 H145.9 V650.94 H147.3 V652.2 H145.9 V654.54 H147.3 V655.8 H145.9 V658.14 H147.3 V659.4 H145.9 V661.74 H147.3 V663 H145.9 V665.34 H147.3 V666.6 H145.9 V668.94 H147.3 V670.2 H145.9 V672.54 H147.3 V673.8 H145.9 V676.14 H147.3 V677.4 H145.9 V679.74 H147.3 V681 H145.9 V683.34 H147.3 V684.6 H145.9 V686.94 H147.3 V688.2 H145.9 V690.54 H147.3 V691.8 H145.9 V694.14 H147.3 V695.4 H145.9 V699" fill="none" stroke="#555" stroke-width="0.85" stroke-linejoin="miter"/>
<line x1="660" y1="520" x2="660" y2="621" stroke="#555" stroke-width="0.85" stroke-dasharray="4,1.5" stroke-linecap="butt"/>
<line x1="660" y1="645" x2="660" y2="699" stroke="#555" stroke-width="0.85" stroke-dasharray="4,1.5" stroke-linecap="butt"/>
<line x1="661.9" y1="520" x2="661.9" y2="621" stroke="#555" stroke-width="0.85" stroke-dasharray="4,1.5" stroke-linecap="butt"/>
<line x1="661.9" y1="645" x2="661.9" y2="699" stroke="#555" stroke-width="0.85" stroke-dasharray="4,1.5" stroke-linecap="butt"/>
<line x1="147" y1="699.8" x2="396" y2="699.8" stroke="#555" stroke-width="0.9" stroke-dasharray="5,2" stroke-linecap="butt"/>
<line x1="413.5" y1="699.8" x2="661" y2="699.8" stroke="#555" stroke-width="0.9" stroke-dasharray="5,2" stroke-linecap="butt"/>
<line x1="147" y1="701.3" x2="396" y2="701.3" stroke="#555" stroke-width="0.9" stroke-dasharray="5,2" stroke-linecap="butt"/>
<line x1="413.5" y1="701.3" x2="661" y2="701.3" stroke="#555" stroke-width="0.9" stroke-dasharray="5,2" stroke-linecap="butt"/>
<path d="M146.5,621 C147.25,621.25 149.08,621.92 151,622.5 C152.92,623.08 156.07,623.5 158,624.5 C159.93,625.5 161.85,626.92 162.6,628.5 C163.35,630.08 163.1,632.17 162.5,634 C161.9,635.83 160.75,638.08 159,639.5 C157.25,640.92 154.08,641.62 152,642.5 C149.92,643.38 147.42,644.42 146.5,644.8" fill="none" stroke="#555" stroke-width="0.9" stroke-linejoin="round"/>
<path d="M148,623 C149.33,623.55 153.92,625.13 156,626.3 C158.08,627.47 159.83,628.47 160.5,630 C161.17,631.53 160.92,633.83 160,635.5 C159.08,637.17 157,638.75 155,640 C153,641.25 149.17,642.5 148,643" fill="none" stroke="#555" stroke-width="0.9" stroke-linejoin="round"/>
<path d="M661,622.2 C660.17,622.42 657.92,622.95 656,623.5 C654.08,624.05 651.33,624.5 649.5,625.5 C647.67,626.5 645.82,628 645,629.5 C644.18,631 644.27,632.75 644.6,634.5 C644.93,636.25 645.6,638.58 647,640 C648.4,641.42 650.67,642.23 653,643 C655.33,643.77 659.67,644.33 661,644.6" fill="none" stroke="#555" stroke-width="0.9" stroke-linejoin="round"/>
<path d="M659.5,624.5 C658.25,625 654.03,626.25 652,627.5 C649.97,628.75 647.97,630.33 647.3,632 C646.63,633.67 647.05,635.97 648,637.5 C648.95,639.03 651.08,640.32 653,641.2 C654.92,642.08 658.42,642.53 659.5,642.8" fill="none" stroke="#555" stroke-width="0.9" stroke-linejoin="round"/>
<path d="M396.2,700 L397.5,690.5 L399,689.3 L411.5,689.3 L412.5,690.5 L413.5,700" fill="none" stroke="#555" stroke-width="0.9" stroke-linejoin="round"/>
<path d="M398.5,700 L399.5,692 L410.5,692 L411.5,700" fill="none" stroke="#555" stroke-width="0.8" stroke-dasharray="2,1.5" stroke-linejoin="round"/>
<line x1="151.5" y1="633" x2="154.5" y2="633" stroke="#333" stroke-width="0.8" stroke-linecap="butt"/>
<line x1="153" y1="631.5" x2="153" y2="634.5" stroke="#333" stroke-width="0.8" stroke-linecap="butt"/>
<rect x="140.2" y="518.5" width="527" height="187.7" rx="1.5" fill="none" stroke="#333" stroke-width="1.5"/>
<line x1="140.8" y1="525.6" x2="666.6" y2="525.6" stroke="#777" stroke-width="0.9" stroke-linecap="butt"/>
<line x1="142.2" y1="526" x2="142.2" y2="705.5" stroke="#bbb" stroke-width="0.6" stroke-linecap="butt"/>
<line x1="140.2" y1="398.2" x2="667.2" y2="398.2" stroke="#777" stroke-width="0.9" stroke-linecap="butt"/>
<path d="M140.2,398.2 L153.2,396 L153.2,400.4 Z" fill="#000"/>
<path d="M667.2,398.2 L654.2,400.4 L654.2,396 Z" fill="#000"/>
<text x="385.5" y="393.9" font-size="17.5" text-anchor="start" textLength="37" lengthAdjust="spacingAndGlyphs" fill="#2b2b2b">1400</text>
<line x1="140.2" y1="394.9" x2="140.2" y2="517" stroke="#888" stroke-width="0.9" stroke-linecap="butt"/>
<line x1="667.2" y1="393.9" x2="667.2" y2="517" stroke="#888" stroke-width="0.9" stroke-linecap="butt"/>
<line x1="140.2" y1="443" x2="535.9" y2="443" stroke="#777" stroke-width="0.9" stroke-linecap="butt"/>
<path d="M140.2,443 L153.2,440.8 L153.2,445.2 Z" fill="#000"/>
<path d="M272.1,443 L259.1,445.2 L259.1,440.8 Z" fill="#000"/>
<path d="M272.1,443 L285.1,440.8 L285.1,445.2 Z" fill="#000"/>
<path d="M535.9,443 L522.9,445.2 L522.9,440.8 Z" fill="#000"/>
<text x="191.8" y="439" font-size="17.5" text-anchor="start" textLength="27.8" lengthAdjust="spacingAndGlyphs" fill="#2b2b2b">350</text>
<text x="389.8" y="439" font-size="17.5" text-anchor="start" textLength="28.2" lengthAdjust="spacingAndGlyphs" fill="#2b2b2b">700</text>
<line x1="272.1" y1="439.7" x2="272.1" y2="536" stroke="#888" stroke-width="0.9" stroke-linecap="butt"/>
<line x1="535.9" y1="439.7" x2="535.9" y2="536" stroke="#888" stroke-width="0.9" stroke-linecap="butt"/>
<circle cx="196.9" cy="479.5" r="6" fill="none" stroke="#333" stroke-width="0.8"/>
<line x1="200.1" y1="471.5" x2="193.8" y2="488" stroke="#222" stroke-width="0.9" stroke-linecap="butt"/>
<text x="207.4" y="484.5" font-size="17.5" text-anchor="start" textLength="18.2" lengthAdjust="spacingAndGlyphs" fill="#2b2b2b">35</text>
<line x1="180.8" y1="487.8" x2="242.2" y2="487.8" stroke="#777" stroke-width="0.9" stroke-linecap="butt"/>
<line x1="242.2" y1="487.8" x2="275.4" y2="548.6" stroke="#777" stroke-width="0.9" stroke-linecap="butt"/>
<path d="M268.4,535.6 L260.7,526.13 L264.56,524.02 Z" fill="#000"/>
<circle cx="460.8" cy="479.5" r="6" fill="none" stroke="#333" stroke-width="0.8"/>
<line x1="464" y1="471.5" x2="457.7" y2="488" stroke="#222" stroke-width="0.9" stroke-linecap="butt"/>
<text x="471.2" y="484.5" font-size="17.5" text-anchor="start" textLength="18.3" lengthAdjust="spacingAndGlyphs" fill="#2b2b2b">35</text>
<line x1="444.7" y1="487.8" x2="506" y2="487.8" stroke="#777" stroke-width="0.9" stroke-linecap="butt"/>
<line x1="506" y1="487.8" x2="539.2" y2="548.6" stroke="#777" stroke-width="0.9" stroke-linecap="butt"/>
<path d="M532.2,535.6 L524.5,526.13 L528.36,524.02 Z" fill="#000"/>
<line x1="121.1" y1="499.8" x2="184.1" y2="499.8" stroke="#777" stroke-width="0.9" stroke-linecap="butt"/>
<path d="M140.2,499.8 L127.2,502 L127.2,497.6 Z" fill="#000"/>
<path d="M153.3,499.8 L166.3,497.6 L166.3,502 Z" fill="#000"/>
<line x1="153.3" y1="496" x2="153.3" y2="621" stroke="#888" stroke-width="0.9" stroke-linecap="butt"/>
<text x="160.9" y="496" font-size="17.5" text-anchor="start" textLength="18.3" lengthAdjust="spacingAndGlyphs" fill="#2b2b2b">35</text>
<line x1="322.5" y1="456.9" x2="322.5" y2="542.5" stroke="#777" stroke-width="0.9" stroke-linecap="butt"/>
<path d="M322.5,518.6 L324.4,530.6 L320.6,530.6 Z" fill="#000"/>
<path d="M322.5,542.5 L320.6,530.5 L324.4,530.5 Z" fill="#000"/>
<line x1="278.7" y1="542.5" x2="326.8" y2="542.5" stroke="#888" stroke-width="0.9" stroke-linecap="butt"/>
<text x="320.2" y="481.1" font-size="17.5" text-anchor="start" textLength="16.5" lengthAdjust="spacingAndGlyphs" transform="rotate(-90 320.2 481.1)" fill="#2b2b2b">65</text>
<line x1="633.8" y1="469.5" x2="633.8" y2="542.5" stroke="#777" stroke-width="0.9" stroke-linecap="butt"/>
<path d="M633.8,518.6 L635.7,530.6 L631.9,530.6 Z" fill="#000"/>
<path d="M633.8,542.5 L631.9,530.5 L635.7,530.5 Z" fill="#000"/>
<line x1="542.6" y1="542.5" x2="637.1" y2="542.5" stroke="#888" stroke-width="0.9" stroke-linecap="butt"/>
<text x="632.2" y="493.4" font-size="17.5" text-anchor="start" textLength="17.9" lengthAdjust="spacingAndGlyphs" transform="rotate(-90 632.2 493.4)" fill="#2b2b2b">65</text>
<line x1="635.5" y1="499.4" x2="720" y2="499.4" stroke="#777" stroke-width="0.9" stroke-linecap="butt"/>
<path d="M654.7,499.4 L641.7,501.6 L641.7,497.2 Z" fill="#000"/>
<path d="M667.2,499.4 L680.2,497.2 L680.2,501.6 Z" fill="#000"/>
<line x1="654.7" y1="496.1" x2="654.7" y2="621" stroke="#888" stroke-width="0.9" stroke-linecap="butt"/>
<text x="695.2" y="496.1" font-size="17.5" text-anchor="start" textLength="18.2" lengthAdjust="spacingAndGlyphs" fill="#2b2b2b">35</text>
<line x1="535.9" y1="502.7" x2="562.5" y2="502.7" stroke="#333" stroke-width="0.9" stroke-linecap="butt"/>
<path d="M588,502.7 L563,506.5 L563,498.9 Z" fill="#000"/>
<text x="595" y="506.2" font-size="17.5" text-anchor="start" textLength="8.5" lengthAdjust="spacingAndGlyphs" fill="#2b2b2b">B</text>
<line x1="535.9" y1="706" x2="535.9" y2="728.6" stroke="#333" stroke-width="0.9" stroke-linecap="butt"/>
<line x1="535.9" y1="728.6" x2="562.5" y2="728.6" stroke="#333" stroke-width="0.9" stroke-linecap="butt"/>
<path d="M589,728.6 L564,732.4 L564,724.8 Z" fill="#000"/>
<text x="595" y="732.2" font-size="17.5" text-anchor="start" textLength="8.5" lengthAdjust="spacingAndGlyphs" fill="#2b2b2b">B</text>
<text x="100.1" y="533.1" font-size="17.5" text-anchor="start" textLength="10.9" lengthAdjust="spacingAndGlyphs" fill="#2b2b2b">A</text>
<path d="M105.3,541.9 L109,567.4 L101.6,567.4 Z" fill="#000"/>
<line x1="105.3" y1="567" x2="105.3" y2="593.2" stroke="#666" stroke-width="0.9" stroke-linecap="butt"/>
<text x="701.8" y="533.1" font-size="17.5" text-anchor="start" textLength="10.9" lengthAdjust="spacingAndGlyphs" fill="#2b2b2b">A</text>
<path d="M706.8,541.9 L710.5,567.4 L703.1,567.4 Z" fill="#000"/>
<line x1="706.8" y1="567" x2="706.8" y2="593.2" stroke="#444" stroke-width="0.9" stroke-linecap="butt"/>
<line x1="680.3" y1="593.2" x2="706.8" y2="593.2" stroke="#444" stroke-width="0.9" stroke-linecap="butt"/>
<line x1="31.8" y1="518.3" x2="139.5" y2="518.3" stroke="#888" stroke-width="0.9" stroke-linecap="butt"/>
<line x1="79.6" y1="593.2" x2="272" y2="593.2" stroke="#555" stroke-width="0.9" stroke-linecap="butt"/>
<line x1="53.7" y1="633.2" x2="149.3" y2="633.2" stroke="#888" stroke-width="0.9" stroke-linecap="butt"/>
<line x1="31.8" y1="706.2" x2="139.5" y2="706.2" stroke="#888" stroke-width="0.9" stroke-linecap="butt"/>
<line x1="35.2" y1="518.3" x2="35.2" y2="706.2" stroke="#777" stroke-width="0.9" stroke-linecap="butt"/>
<path d="M35.2,518.3 L37.4,531.3 L33,531.3 Z" fill="#000"/>
<path d="M35.2,706.2 L33,693.2 L37.4,693.2 Z" fill="#000"/>
<line x1="57.2" y1="518.3" x2="57.2" y2="633.2" stroke="#777" stroke-width="0.9" stroke-linecap="butt"/>
<path d="M57.2,518.3 L59.4,531.3 L55,531.3 Z" fill="#000"/>
<path d="M57.2,633.2 L55,620.2 L59.4,620.2 Z" fill="#000"/>
<line x1="82.4" y1="499.6" x2="82.4" y2="611.5" stroke="#777" stroke-width="0.9" stroke-linecap="butt"/>
<path d="M82.4,518.3 L80.2,505.3 L84.6,505.3 Z" fill="#000"/>
<path d="M82.4,593.2 L84.6,606.2 L80.2,606.2 Z" fill="#000"/>
<text x="79.6" y="569.2" font-size="17.5" text-anchor="start" textLength="27.3" lengthAdjust="spacingAndGlyphs" transform="rotate(-90 79.6 569.2)" fill="#2b2b2b">200</text>
<text x="53.7" y="589.7" font-size="17.5" text-anchor="start" textLength="27.3" lengthAdjust="spacingAndGlyphs" transform="rotate(-90 53.7 589.7)" fill="#2b2b2b">305</text>
<text x="33.2" y="626" font-size="17.5" text-anchor="start" textLength="28" lengthAdjust="spacingAndGlyphs" transform="rotate(-90 33.2 626)" fill="#2b2b2b">500</text>
<line x1="668.7" y1="518.3" x2="791.4" y2="518.3" stroke="#888" stroke-width="0.9" stroke-linecap="butt"/>
<line x1="658.7" y1="633.2" x2="751.6" y2="633.2" stroke="#888" stroke-width="0.9" stroke-linecap="butt"/>
<line x1="670.3" y1="706.2" x2="791.4" y2="706.2" stroke="#888" stroke-width="0.9" stroke-linecap="butt"/>
<line x1="747.8" y1="518.3" x2="747.8" y2="633.2" stroke="#777" stroke-width="0.9" stroke-linecap="butt"/>
<path d="M747.8,518.3 L750,531.3 L745.6,531.3 Z" fill="#000"/>
<path d="M747.8,633.2 L745.6,620.2 L750,620.2 Z" fill="#000"/>
<line x1="788.1" y1="518.3" x2="788.1" y2="706.2" stroke="#777" stroke-width="0.9" stroke-linecap="butt"/>
<path d="M788.1,518.3 L790.3,531.3 L785.9,531.3 Z" fill="#000"/>
<path d="M788.1,706.2 L785.9,693.2 L790.3,693.2 Z" fill="#000"/>
<text x="745" y="590.6" font-size="17.5" text-anchor="start" textLength="28" lengthAdjust="spacingAndGlyphs" transform="rotate(-90 745 590.6)" fill="#2b2b2b">305</text>
<text x="785.4" y="626" font-size="17.5" text-anchor="start" textLength="28" lengthAdjust="spacingAndGlyphs" transform="rotate(-90 785.4 626)" fill="#2b2b2b">500</text>
<line x1="140.2" y1="767.5" x2="404.1" y2="767.5" stroke="#777" stroke-width="0.9" stroke-linecap="butt"/>
<path d="M140.2,767.5 L153.2,765.3 L153.2,769.7 Z" fill="#000"/>
<path d="M404.1,767.5 L391.1,769.7 L391.1,765.3 Z" fill="#000"/>
<text x="258.1" y="763.5" font-size="17.5" text-anchor="start" textLength="27.9" lengthAdjust="spacingAndGlyphs" fill="#2b2b2b">700</text>
<line x1="140.2" y1="708" x2="140.2" y2="770.8" stroke="#888" stroke-width="0.9" stroke-linecap="butt"/>
<line x1="404.1" y1="693.5" x2="404.1" y2="770.8" stroke="#888" stroke-width="0.9" stroke-linecap="butt"/>
<line x1="351" y1="674.6" x2="351" y2="764" stroke="#777" stroke-width="0.9" stroke-linecap="butt"/>
<path d="M351,692.8 L348.8,679.8 L353.2,679.8 Z" fill="#000"/>
<path d="M351,706.2 L353.2,719.2 L348.8,719.2 Z" fill="#000"/>
<line x1="346.7" y1="692.8" x2="394.8" y2="692.8" stroke="#555" stroke-width="0.9" stroke-linecap="butt"/>
<text x="348.4" y="759.2" font-size="17.5" text-anchor="start" textLength="19.9" lengthAdjust="spacingAndGlyphs" transform="rotate(-90 348.4 759.2)" fill="#2b2b2b">35</text>
<line x1="657.5" y1="634.5" x2="753.3" y2="774.1" stroke="#444" stroke-width="0.8" stroke-linecap="butt"/>
<line x1="753.3" y1="774.1" x2="778.1" y2="774.1" stroke="#777" stroke-width="0.8" stroke-linecap="butt"/>
<path d="M655.3,631.5 L662.6,638.62 L659.3,640.88 Z" fill="#000"/>
<text x="778.6" y="777.7" font-size="14" text-anchor="start" font-weight="bold" textLength="155.5" lengthAdjust="spacingAndGlyphs" fill="#111">Nylonbussning M5 (3x)</text>
<text x="778.6" y="792.1" font-size="14" text-anchor="start" font-weight="bold" textLength="176.6" lengthAdjust="spacingAndGlyphs" fill="#111">Kolek plastykowy M5 (3x)</text>
<path d="M1056.1,518.1 L1061.3,518.1 L1061.3,559.3 L1014,574.1 C1012.5,575.5 1011.7,578 1011.6,581.2 L1012.3,605 L1015.9,673.2 C1016.2,674.5 1016.8,675 1017.9,675.4 L1059.9,686.9 L1059.9,705.2 L1022.5,705.2 L1022.5,681 L1016,679.5 C1013,678.8 1011.6,676.5 1011.3,673.2 L1008.1,635.3 C1007.9,633 1006.5,631.2 1004.2,630.1 L1003.9,577.7 C1005.5,576.5 1006.8,574.5 1008,572.5 C1009.5,569.5 1011,567.5 1012.8,567 L1056.1,555.7 Z" fill="url(#hatch)" stroke="#111" stroke-width="1.5" stroke-linejoin="round"/>
<path d="M1022.5,565.2 L1022.5,518.1 L1061.3,518.1" fill="none" stroke="#111" stroke-width="1.5" stroke-linejoin="round"/>
<line x1="1061.3" y1="518.1" x2="1061.3" y2="705.2" stroke="#111" stroke-width="1.7" stroke-linecap="butt"/>
<line x1="1056.1" y1="535.5" x2="1061.3" y2="535.5" stroke="#111" stroke-width="1.1" stroke-linecap="butt"/>
<line x1="1056.1" y1="548" x2="1061.3" y2="548" stroke="#111" stroke-width="1.1" stroke-linecap="butt"/>
<line x1="1056.1" y1="518.1" x2="1056.1" y2="555.7" stroke="#111" stroke-width="1.2" stroke-linecap="butt"/>
<line x1="1004" y1="585" x2="1012" y2="585" stroke="#111" stroke-width="1.1" stroke-linecap="butt"/>
<line x1="1004" y1="602.3" x2="1012" y2="602.3" stroke="#111" stroke-width="1.1" stroke-linecap="butt"/>
<line x1="963.3" y1="517.8" x2="963.3" y2="705.5" stroke="#777" stroke-width="0.9" stroke-linecap="butt"/>
<path d="M963.3,518.1 L965.5,531.1 L961.1,531.1 Z" fill="#000"/>
<path d="M963.3,705.3 L961.1,692.3 L965.5,692.3 Z" fill="#000"/>
<line x1="961" y1="518.1" x2="1021" y2="518.1" stroke="#888" stroke-width="0.9" stroke-linecap="butt"/>
<line x1="961" y1="705.5" x2="1021" y2="705.5" stroke="#888" stroke-width="0.9" stroke-linecap="butt"/>
<text x="961.3" y="624.8" font-size="17.5" text-anchor="start" textLength="27.4" lengthAdjust="spacingAndGlyphs" transform="rotate(-90 961.3 624.8)" fill="#2b2b2b">500</text>
<line x1="1072.5" y1="476.5" x2="1072.5" y2="544.5" stroke="#777" stroke-width="0.9" stroke-linecap="butt"/>
<path d="M1072.5,518.3 L1070.3,505.3 L1074.7,505.3 Z" fill="#000"/>
<path d="M1072.5,525.5 L1074.7,538.5 L1070.3,538.5 Z" fill="#000"/>
<line x1="1065" y1="525.5" x2="1076.1" y2="525.5" stroke="#888" stroke-width="0.9" stroke-linecap="butt"/>
<text x="1069.6" y="500.7" font-size="17.5" text-anchor="start" textLength="17.6" lengthAdjust="spacingAndGlyphs" transform="rotate(-90 1069.6 500.7)" fill="#2b2b2b">20</text>
<line x1="1106.6" y1="499.4" x2="1106.6" y2="690" stroke="#777" stroke-width="0.9" stroke-linecap="butt"/>
<path d="M1106.6,518.3 L1104.4,505.3 L1108.8,505.3 Z" fill="#000"/>
<path d="M1106.6,559.5 L1108.8,572.5 L1104.4,572.5 Z" fill="#000"/>
<path d="M1106.6,686.8 L1104.4,673.8 L1108.8,673.8 Z" fill="#000"/>
<text x="1102.9" y="549.7" font-size="17.5" text-anchor="start" textLength="24.8" lengthAdjust="spacingAndGlyphs" transform="rotate(-90 1102.9 549.7)" fill="#2b2b2b">110</text>
<text x="1102.4" y="636.5" font-size="17.5" text-anchor="start" textLength="27.4" lengthAdjust="spacingAndGlyphs" transform="rotate(-90 1102.4 636.5)" fill="#2b2b2b">340</text>
<line x1="1063.7" y1="518.3" x2="1143.4" y2="518.3" stroke="#888" stroke-width="0.9" stroke-linecap="butt"/>
<line x1="1063.7" y1="559.5" x2="1110.7" y2="559.5" stroke="#888" stroke-width="0.9" stroke-linecap="butt"/>
<line x1="1064.1" y1="686.8" x2="1110.4" y2="686.8" stroke="#888" stroke-width="0.9" stroke-linecap="butt"/>
<line x1="1063" y1="704.9" x2="1143.1" y2="704.9" stroke="#888" stroke-width="0.9" stroke-linecap="butt"/>
<line x1="1139.7" y1="518.3" x2="1139.7" y2="704.9" stroke="#777" stroke-width="0.9" stroke-linecap="butt"/>
<path d="M1139.7,518.3 L1141.9,531.3 L1137.5,531.3 Z" fill="#000"/>
<path d="M1139.7,704.9 L1137.5,691.9 L1141.9,691.9 Z" fill="#000"/>
<text x="1137.7" y="632.6" font-size="17.5" text-anchor="start" textLength="37.2" lengthAdjust="spacingAndGlyphs" transform="rotate(-90 1137.7 632.6)" fill="#2b2b2b">498,3</text>
<line x1="1012.8" y1="596.6" x2="1059.7" y2="596.6" stroke="#777" stroke-width="0.9" stroke-linecap="butt"/>
<path d="M1012.8,596.6 L1023.8,594.4 L1023.8,598.8 Z" fill="#000"/>
<path d="M1059.7,596.6 L1048.7,598.8 L1048.7,594.4 Z" fill="#000"/>
<text x="1024.1" y="591.9" font-size="17.5" text-anchor="start" textLength="26.1" lengthAdjust="spacingAndGlyphs" fill="#2b2b2b">128</text>
<text x="1032" y="671.5" font-size="17.5" text-anchor="start" transform="rotate(-40 1032 671.5)" fill="#2b2b2b">73°</text>
<path d="M1059.6,660.9 L1050.48,665.47 L1049.43,661.62 Z" fill="#000"/>
<path d="M1034.8,677.8 L1038.73,668.39 L1042.04,670.62 Z" fill="#000"/>
<path d="M1049.5,663.6 Q1045,664.5 1041.6,667.7" fill="none" stroke="#333" stroke-width="0.8" stroke-linejoin="round"/>
<line x1="1022.4" y1="725.6" x2="1059.6" y2="725.6" stroke="#777" stroke-width="0.9" stroke-linecap="butt"/>
<path d="M1022.4,725.6 L1034.4,723.4 L1034.4,727.8 Z" fill="#000"/>
<path d="M1059.6,725.6 L1047.6,727.8 L1047.6,723.4 Z" fill="#000"/>
<text x="1029.2" y="721.1" font-size="17.5" text-anchor="start" textLength="25.9" lengthAdjust="spacingAndGlyphs" fill="#2b2b2b">100</text>
<line x1="1022.4" y1="707.2" x2="1022.4" y2="778.2" stroke="#888" stroke-width="0.9" stroke-linecap="butt"/>
<line x1="1059.6" y1="707.2" x2="1059.6" y2="729.7" stroke="#888" stroke-width="0.9" stroke-linecap="butt"/>
<line x1="1061.9" y1="705.3" x2="1095.7" y2="705.3" stroke="#333" stroke-width="0.9" stroke-linecap="butt"/>
<path d="M1091.2,706 A69,69 0 0 1 1022.4,774.8" fill="none" stroke="#333" stroke-width="0.8" stroke-linejoin="round"/>
<path d="M1091.2,705.6 L1092.7,717.69 L1088.5,717.48 Z" fill="#000"/>
<path d="M1022.4,774.8 L1034.49,773.3 L1034.28,777.5 Z" fill="#000"/>
<text x="1060.5" y="762" font-size="17.5" text-anchor="start" transform="rotate(-55 1060.5 762)" fill="#2b2b2b">91°</text>
<text x="1200" y="798.7" font-size="17.5" text-anchor="start" textLength="24.1" lengthAdjust="spacingAndGlyphs" fill="#2b2b2b">B-B</text>
</svg></body></html>
